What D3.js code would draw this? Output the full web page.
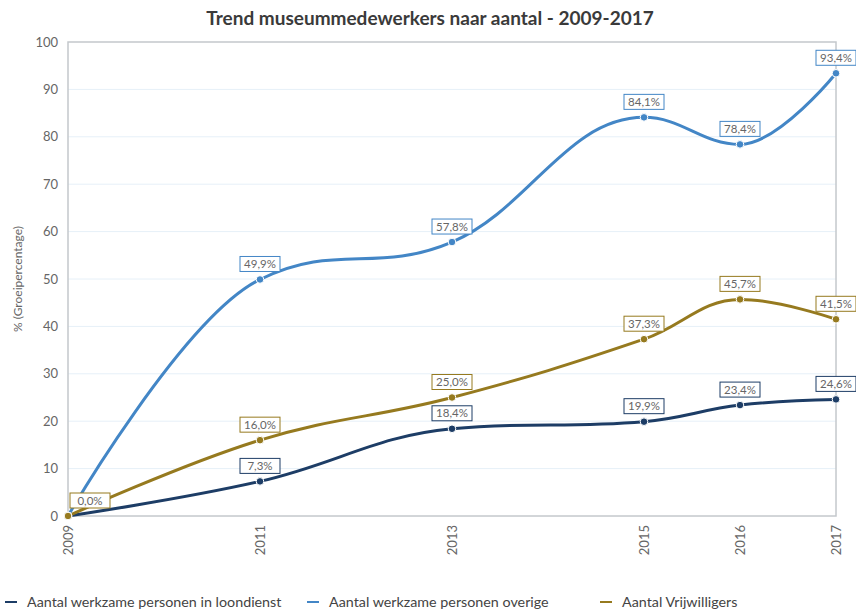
<!DOCTYPE html>
<html>
<head>
<meta charset="utf-8">
<script src="https://cdn.jsdelivr.net/npm/d3@7"></script>
<style>
  body { margin: 0; background: #fff; }
  text { font-family: Lato, "Open Sans", sans-serif; }
</style>
</head>
<body>
<svg width="856" height="614"></svg>
<script>
// data
let years = [2009, 2011, 2013, 2015, 2016, 2017]
let loondienst = [0.0, 7.3, 18.4, 19.9, 23.4, 24.6]
let overige = [0.0, 49.9, 57.8, 84.1, 78.4, 93.4]
let vrijwilligers = [0.0, 16.0, 25.0, 37.3, 45.7, 41.5]
let yTicks = [0, 10, 20, 30, 40, 50, 60, 70, 80, 90, 100]
let seriesNames = ['Aantal werkzame personen in loondienst', 'Aantal werkzame personen overige', 'Aantal Vrijwilligers']
let seriesColors = ['#1d3d66', '#4386c6', '#967a1f']

let series = [
    { name: seriesNames[0], color: seriesColors[0], values: loondienst, hideFirst: true },
    { name: seriesNames[1], color: seriesColors[1], values: overige, hideFirst: true },
    { name: seriesNames[2], color: seriesColors[2], values: vrijwilligers, hideFirst: false }
]

// spline curve in the style of the original charting tool
function splineCurve(context) {
    let pts = []
    return {
        areaStart() {},
        areaEnd() {},
        lineStart() { pts = [] },
        point(x, y) { pts.push([+x, +y]) },
        lineEnd() {
            let n = pts.length
            if (!n) return
            let s = 1.5, den = s + 1
            let ctrl = pts.map((p, i) => {
                if (i === 0 || i === n - 1) return null
                let [lx, ly] = pts[i - 1], [nx, ny] = pts[i + 1], [x, y] = p
                let lcx = (s * x + lx) / den, lcy = (s * y + ly) / den
                let rcx = (s * x + nx) / den, rcy = (s * y + ny) / den
                let corr = ((rcy - lcy) * (rcx - x)) / (rcx - lcx) + y - rcy
                lcy += corr
                rcy += corr
                if (lcy > ly && lcy > y) { lcy = Math.max(ly, y); rcy = 2 * y - lcy }
                else if (lcy < ly && lcy < y) { lcy = Math.min(ly, y); rcy = 2 * y - lcy }
                if (rcy > ny && rcy > y) { rcy = Math.max(ny, y); lcy = 2 * y - rcy }
                else if (rcy < ny && rcy < y) { rcy = Math.min(ny, y); lcy = 2 * y - rcy }
                return { l: [lcx, lcy], r: [rcx, rcy] }
            })
            context.moveTo(pts[0][0], pts[0][1])
            for (let i = 1; i < n; i++) {
                let c1 = ctrl[i - 1] ? ctrl[i - 1].r : pts[i - 1]
                let c2 = ctrl[i] ? ctrl[i].l : pts[i]
                context.bezierCurveTo(c1[0], c1[1], c2[0], c2[1], pts[i][0], pts[i][1])
            }
        }
    }
}

let svg = d3.select('svg')
let plot = { left: 68, right: 836, top: 42, bottom: 516 }

let scale = {
    x: d3.scaleLinear().domain([2009, 2017]).range([plot.left, plot.right]),
    y: d3.scaleLinear().domain([0, 100]).range([plot.bottom, plot.top])
}

// title
svg.append('text')
    .attr('x', 430)
    .attr('y', 25)
    .attr('text-anchor', 'middle')
    .attr('font-size', 19)
    .attr('font-weight', 'bold')
    .attr('fill', '#3a3a3a')
    .text('Trend museummedewerkers naar aantal - 2009-2017')

// grid
svg.append('g')
    .selectAll('line')
    .data(yTicks.slice(1, -1))
    .enter()
    .append('line')
    .attr('x1', plot.left)
    .attr('x2', plot.right)
    .attr('y1', d => scale.y(d))
    .attr('y2', d => scale.y(d))
    .attr('stroke', '#e6f0f8')

// frame
svg.append('rect')
    .attr('x', plot.left)
    .attr('y', plot.top)
    .attr('width', plot.right - plot.left)
    .attr('height', plot.bottom - plot.top)
    .attr('fill', 'none')
    .attr('stroke', '#c4c8cc')
    .attr('stroke-width', 1.5)

// Y axis
let yAxis = svg.append('g')
    .attr('transform', `translate(${plot.left},0)`)
    .call(d3.axisLeft(scale.y).tickValues(yTicks).tickSize(0).tickPadding(10))
yAxis.select('.domain').remove()
yAxis.selectAll('text')
    .attr('font-size', 13)
    .attr('fill', '#666')
    .style('font-family', 'Lato, sans-serif')

// Y label
svg.append('text')
    .attr('transform', `translate(22,${(plot.top + plot.bottom) / 2}) rotate(-90)`)
    .attr('text-anchor', 'middle')
    .attr('font-size', 12)
    .attr('fill', '#666')
    .text('% (Groeipercentage)')

// X axis
let xAxis = svg.append('g')
    .attr('transform', `translate(0,${plot.bottom})`)
    .call(d3.axisBottom(scale.x).tickValues(years).tickFormat(d3.format('d')).tickSize(0))
xAxis.select('.domain').remove()
xAxis.selectAll('text')
    .attr('transform', 'rotate(-90)')
    .attr('x', -9)
    .attr('y', 0)
    .attr('dy', '0.35em')
    .attr('text-anchor', 'end')
    .attr('font-size', 13)
    .attr('fill', '#666')
    .style('font-family', 'Lato, sans-serif')

let line = d3.line()
    .x((d, i) => scale.x(years[i]))
    .y(d => scale.y(d))
    .curve(splineCurve)

// lines
series.forEach(s => {
    svg.append('path')
        .datum(s.values)
        .attr('fill', 'none')
        .attr('stroke', s.color)
        .attr('stroke-width', 3)
        .attr('d', line)
})

// markers
series.forEach(s => {
    svg.append('g')
        .selectAll('circle')
        .data(s.values)
        .enter()
        .append('circle')
        .attr('cx', (d, i) => scale.x(years[i]))
        .attr('cy', d => scale.y(d))
        .attr('r', 3.8)
        .attr('fill', s.color)
        .attr('stroke', '#fff')
        .attr('stroke-width', 1)
})

// data labels
series.forEach(s => {
    s.values.forEach((v, i) => {
        if (i === 0 && s.hideFirst) return
        let txt = d3.format('.1f')(v).replace('.', ',') + '%'
        let w = 40, h = 15
        let cx = Math.max(scale.x(years[i]), plot.left + w / 2 + 2)
        let by = scale.y(v) - 8
        let g = svg.append('g')
        g.append('rect')
            .attr('x', cx - w / 2)
            .attr('y', by - h)
            .attr('width', w)
            .attr('height', h)
            .attr('fill', '#fff')
            .attr('stroke', s.color)
            .attr('stroke-width', 1)
        g.append('text')
            .attr('x', cx)
            .attr('y', by - 3.5)
            .attr('text-anchor', 'middle')
            .attr('font-size', 11.5)
            .attr('fill', '#666')
            .text(txt)
    })
})

// legend
let legendX = [5, 307, 600]
series.forEach((s, i) => {
    let g = svg.append('g').attr('transform', `translate(${legendX[i]},602)`)
    g.append('line')
        .attr('x1', 0)
        .attr('x2', 12)
        .attr('y1', 0)
        .attr('y2', 0)
        .attr('stroke', s.color)
        .attr('stroke-width', 2)
    g.append('text')
        .attr('x', 22)
        .attr('y', 0)
        .attr('dy', '0.35em')
        .attr('font-size', 14.3)
        .attr('fill', '#444')
        .text(s.name)
})
</script>
</body>
</html>
